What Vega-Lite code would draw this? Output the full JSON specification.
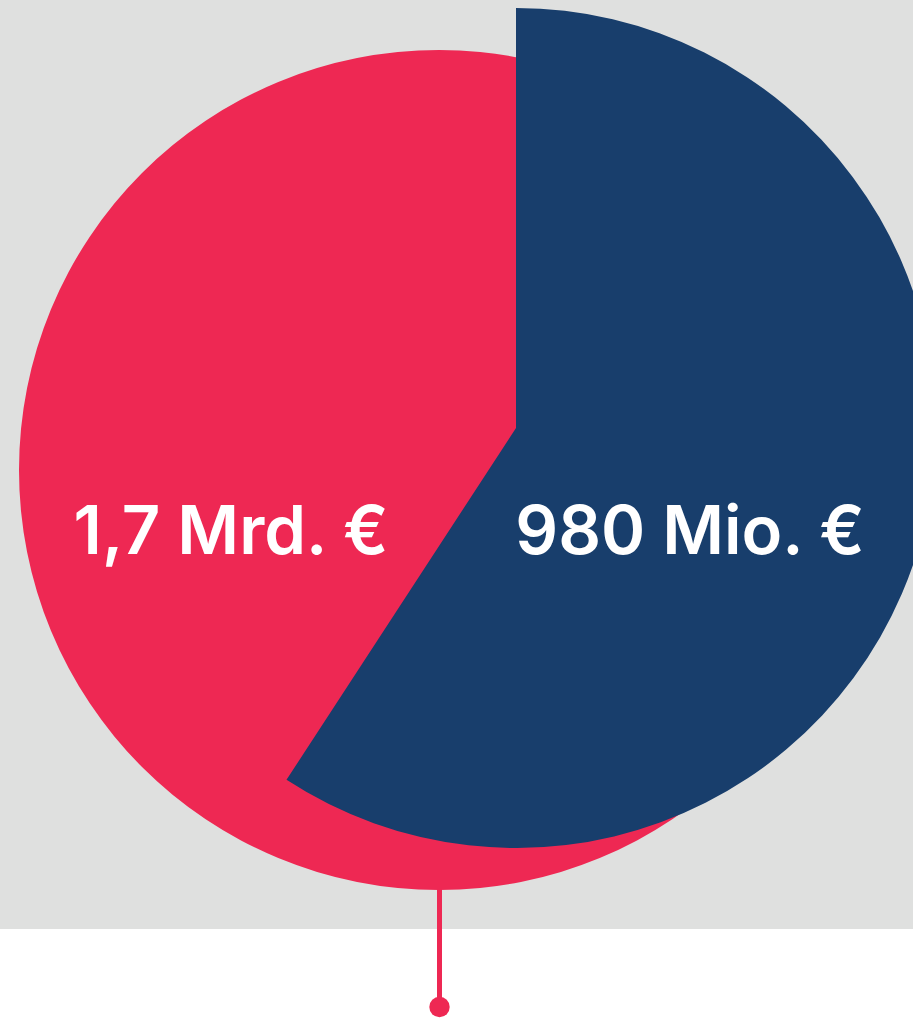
{
  "$schema": "https://vega.github.io/schema/vega-lite/v6.json",
  "width": 913,
  "height": 1018,
  "padding": 0,
  "autosize": {"type": "none"},
  "background": "#ffffff",
  "config": {"view": {"stroke": null}},
  "layer": [
    {
      "data": {"values": [{"x": 0, "x2": 913, "y": 0, "y2": 929}]},
      "mark": {"type": "rect", "color": "#dfe0df"},
      "encoding": {
        "x": {"field": "x", "type": "quantitative", "scale": {"domain": [0, 913], "nice": false, "zero": false}, "axis": null},
        "x2": {"field": "x2"},
        "y": {"field": "y", "type": "quantitative", "scale": {"domain": [0, 1018], "nice": false, "zero": false, "reverse": true}, "axis": null},
        "y2": {"field": "y2"}
      }
    },
    {
      "data": {"values": [{"name": "Gesamt", "cx": 439, "cy": 470, "r": 420, "t0": 0, "t1": 1}]},
      "mark": {"type": "arc", "color": "#ee2853"},
      "encoding": {
        "x": {"field": "cx", "type": "quantitative"},
        "y": {"field": "cy", "type": "quantitative"},
        "theta": {"field": "t0", "type": "quantitative", "scale": {"type": "linear", "domain": [0, 1], "range": [0, 6.283185307], "zero": false, "nice": false}},
        "theta2": {"field": "t1"},
        "radius": {"field": "r", "type": "quantitative", "scale": {"type": "linear", "domain": [0, 500], "range": [0, 500], "zero": true, "nice": false}}
      }
    },
    {
      "data": {"values": [{"name": "Anteil", "cx": 516, "cy": 428, "r": 420, "t0": 0, "t1": 0.592}]},
      "mark": {"type": "arc", "color": "#183e6c"},
      "encoding": {
        "x": {"field": "cx", "type": "quantitative"},
        "y": {"field": "cy", "type": "quantitative"},
        "theta": {"field": "t0", "type": "quantitative"},
        "theta2": {"field": "t1"},
        "radius": {"field": "r", "type": "quantitative"}
      }
    },
    {
      "data": {"values": [{"x": 439.5, "y": 885, "y2": 1003}]},
      "mark": {"type": "rule", "color": "#ee2853", "strokeWidth": 5},
      "encoding": {
        "x": {"field": "x", "type": "quantitative"},
        "y": {"field": "y", "type": "quantitative"},
        "y2": {"field": "y2"}
      }
    },
    {
      "data": {"values": [{"x": 439.5, "y": 1007}]},
      "mark": {"type": "point", "shape": "circle", "filled": true, "opacity": 1, "color": "#ee2853", "size": 415},
      "encoding": {
        "x": {"field": "x", "type": "quantitative"},
        "y": {"field": "y", "type": "quantitative"}
      }
    },
    {
      "data": {"values": [
        {"label": "1,7 Mrd. €", "x": 231, "y": 554},
        {"label": "980 Mio. €", "x": 690, "y": 554}
      ]},
      "mark": {"type": "text", "align": "center", "baseline": "alphabetic", "font": "Inter", "fontWeight": 600, "fontSize": 67, "color": "#ffffff"},
      "encoding": {
        "x": {"field": "x", "type": "quantitative"},
        "y": {"field": "y", "type": "quantitative"},
        "text": {"field": "label"}
      }
    }
  ]
}
